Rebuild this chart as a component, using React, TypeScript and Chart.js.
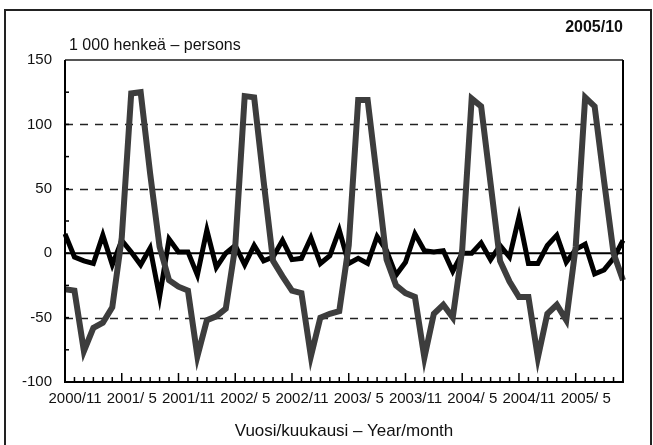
import React, { useEffect, useRef } from "react";
import { Chart, registerables } from "chart.js";

Chart.register(...registerables);

// Months 2000/11 .. 2005/10
const months: string[] = [
  "2000/11", "2000/12",
  "2001/ 1", "2001/ 2", "2001/ 3", "2001/ 4", "2001/ 5", "2001/ 6", "2001/ 7", "2001/ 8", "2001/ 9", "2001/10", "2001/11", "2001/12",
  "2002/ 1", "2002/ 2", "2002/ 3", "2002/ 4", "2002/ 5", "2002/ 6", "2002/ 7", "2002/ 8", "2002/ 9", "2002/10", "2002/11", "2002/12",
  "2003/ 1", "2003/ 2", "2003/ 3", "2003/ 4", "2003/ 5", "2003/ 6", "2003/ 7", "2003/ 8", "2003/ 9", "2003/10", "2003/11", "2003/12",
  "2004/ 1", "2004/ 2", "2004/ 3", "2004/ 4", "2004/ 5", "2004/ 6", "2004/ 7", "2004/ 8", "2004/ 9", "2004/10", "2004/11", "2004/12",
  "2005/ 1", "2005/ 2", "2005/ 3", "2005/ 4", "2005/ 5", "2005/ 6", "2005/ 7", "2005/ 8", "2005/ 9", "2005/10",
];

// Tick labels shown on the x axis
const shownLabels: string[] = [
  "2000/11", "2001/ 5", "2001/11", "2002/ 5", "2002/11",
  "2003/ 5", "2003/11", "2004/ 5", "2004/11", "2005/ 5",
];

// Seasonal series (grey, thick)
const seriesGrey: number[] = [
  -28, -29, -76, -58, -54, -42, 12, 124, 125, 62, 5, -21,
  -26, -29, -80, -52, -49, -43, 5, 122, 121, 56, -6, -18,
  -29, -31, -80, -50, -47, -45, 6, 119, 119, 58, -5, -25,
  -31, -34, -81, -47, -40, -50, 3, 120, 114, 54, -6, -22,
  -34, -34, -81, -47, -40, -52, 5, 121, 114, 56, 0, -21,
];

// Irregular series (black)
const seriesBlack: number[] = [
  15, -3, -6, -8, 14, -9, 10, 1, -9, 4, -34, 11,
  1, 1, -17, 18, -11, 0, 6, -9, 6, -6, -3, 10,
  -5, -4, 12, -8, -2, 18, -8, -4, -8, 13, 2, -17,
  -7, 15, 2, 1, 2, -14, 0, 0, 8, -5, 6, -3,
  28, -8, -8, 6, 14, -7, 3, 7, -16, -13, -4, 10,
];

// Y axis
const yMin = -100;
const yMax = 150;
const yStep = 50;
const yMinorStep = 25;
const dashedLevels: number[] = [100, 50, -50];
const zeroLevel = 0;

const FONT = "'Liberation Sans', Arial, Helvetica, sans-serif";

const decorPlugin = {
  id: "decor",
  beforeDatasetsDraw(chart: any) {
    const { ctx, chartArea } = chart;
    const xs = chart.scales.x;
    const ys = chart.scales.y;
    ctx.save();
    // dashed grid lines
    ctx.strokeStyle = "#222";
    ctx.lineWidth = 1.5;
    ctx.setLineDash([8, 7]);
    for (const v of dashedLevels) {
      const y = Math.round(ys.getPixelForValue(v)) + 0.5;
      ctx.beginPath();
      ctx.moveTo(chartArea.left, y);
      ctx.lineTo(chartArea.right, y);
      ctx.stroke();
    }
    ctx.setLineDash([]);
    // zero line
    ctx.strokeStyle = "#000";
    ctx.lineWidth = 2;
    const y0 = ys.getPixelForValue(zeroLevel);
    ctx.beginPath();
    ctx.moveTo(chartArea.left, y0);
    ctx.lineTo(chartArea.right, y0);
    ctx.stroke();
    // y minor ticks
    ctx.lineWidth = 1.5;
    for (let v = yMin; v <= yMax; v += yMinorStep) {
      const y = ys.getPixelForValue(v);
      ctx.beginPath();
      ctx.moveTo(chartArea.left, y);
      ctx.lineTo(chartArea.left + 4, y);
      ctx.stroke();
    }
    // x ticks (inside)
    for (let i = 0; i < months.length; i++) {
      const x = xs.getPixelForValue(i);
      const len = shownLabels.includes(months[i]) ? 9 : 5;
      ctx.beginPath();
      ctx.moveTo(x, chartArea.bottom);
      ctx.lineTo(x, chartArea.bottom - len);
      ctx.stroke();
    }
    ctx.restore();
  },
  afterDatasetsDraw(chart: any) {
    const { ctx, chartArea } = chart;
    ctx.save();
    // top border (grey)
    ctx.strokeStyle = "#555";
    ctx.lineWidth = 2;
    ctx.beginPath();
    ctx.moveTo(chartArea.left, chartArea.top);
    ctx.lineTo(chartArea.right, chartArea.top);
    ctx.stroke();
    // left, bottom, right
    ctx.strokeStyle = "#000";
    ctx.lineWidth = 2;
    ctx.beginPath();
    ctx.moveTo(chartArea.left, chartArea.top);
    ctx.lineTo(chartArea.left, chartArea.bottom);
    ctx.lineTo(chartArea.right, chartArea.bottom);
    ctx.lineTo(chartArea.right, chartArea.top);
    ctx.stroke();
    ctx.restore();
  },
};

export default function App() {
  const canvasRef = useRef<HTMLCanvasElement | null>(null);

  useEffect(() => {
    const canvas = canvasRef.current;
    if (!canvas) return;
    const chart = new Chart(canvas, {
      type: "line",
      data: {
        labels: months,
        datasets: [
          {
            data: seriesGrey,
            borderColor: "#3d3d3d",
            borderWidth: 6,
            pointRadius: 0,
            tension: 0,
            fill: false,
          },
          {
            data: seriesBlack,
            borderColor: "#000",
            borderWidth: 5,
            pointRadius: 0,
            tension: 0,
            fill: false,
          },
        ],
      },
      options: {
        animation: false,
        responsive: false,
        devicePixelRatio: 1,
        layout: { padding: { left: 0, right: 30, top: 60, bottom: 0 } },
        plugins: { legend: { display: false }, tooltip: { enabled: false } },
        scales: {
          x: {
            grid: { display: false, drawTicks: false },
            border: { display: false },
            ticks: {
              autoSkip: false,
              maxRotation: 0,
              minRotation: 0,
              labelOffset: 10,
              padding: 8,
              color: "#111",
              font: { family: FONT, size: 15 },
              callback: (_v: any, i: number) =>
                shownLabels.includes(months[i]) ? months[i] : "",
            },
            afterFit: (s: any) => {
              s.height = 63;
            },
          },
          y: {
            min: yMin,
            max: yMax,
            grid: { display: false, drawTicks: false },
            border: { display: false },
            ticks: {
              stepSize: yStep,
              padding: 13,
              color: "#111",
              font: { family: FONT, size: 15 },
            },
            afterFit: (s: any) => {
              s.width = 65;
            },
          },
        },
      },
      plugins: [decorPlugin],
    });
    return () => chart.destroy();
  }, []);

  return (
    <div
      style={{
        position: "absolute",
        left: 0,
        top: 0,
        width: 653,
        height: 445,
        background: "#fff",
        overflow: "hidden",
        fontFamily: FONT,
        color: "#111",
      }}
    >
      <canvas
        ref={canvasRef}
        width={653}
        height={445}
        style={{ position: "absolute", left: 0, top: 0, width: 653, height: 445 }}
      />
      <div
        style={{
          position: "absolute",
          left: 4,
          top: 9,
          width: 644,
          height: 460,
          borderLeft: "2px solid #222",
          borderTop: "2px solid #222",
          borderRight: "2px solid #222",
          pointerEvents: "none",
        }}
      />
      <div
        style={{
          position: "absolute",
          left: 69,
          top: 37,
          fontSize: 16,
          lineHeight: "16px",
          whiteSpace: "nowrap",
        }}
      >
        1 000 henkeä – persons
      </div>
      <div
        style={{
          position: "absolute",
          right: 653 - 623,
          top: 19,
          fontSize: 16,
          lineHeight: "16px",
          fontWeight: "bold",
          whiteSpace: "nowrap",
        }}
      >
        2005/10
      </div>
      <div
        style={{
          position: "absolute",
          left: 65,
          width: 558,
          top: 422,
          fontSize: 17,
          lineHeight: "17px",
          textAlign: "center",
          whiteSpace: "nowrap",
        }}
      >
        Vuosi/kuukausi – Year/month
      </div>
    </div>
  );
}
